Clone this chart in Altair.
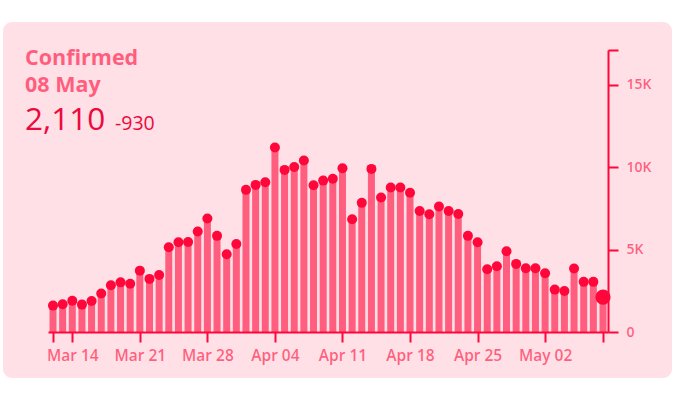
import altair as alt
import pandas as pd

dates = pd.date_range("2020-03-12", "2020-05-08", freq="D")
values = [
    1600, 1680, 1900, 1660, 1880, 2330, 2830, 3010, 2930, 3720,
    3220, 3460, 5140, 5440, 5460, 6090, 6880, 5830, 4710, 5340,
    8620, 8920, 9080, 11190, 9830, 10010, 10400, 8900, 9180, 9290,
    9930, 6840, 7830, 9890, 8160, 8760, 8760, 8440, 7340, 7140,
    7610, 7340, 7160, 5830, 5440, 3800, 3990, 4900, 4130, 3870,
    3870, 3560, 2570, 2490, 3850, 3040, 3040, 2110,
]
title_lines = ["Confirmed", "08 May"]
headline = "2,110"
delta = "-930"
y_ticks = [0, 5000, 10000, 15000, 17100]
x_ticks = ["2020-03-12", "2020-03-14", "2020-03-21", "2020-03-28", "2020-04-04",
           "2020-04-11", "2020-04-18", "2020-04-25", "2020-05-02", "2020-05-08"]

df = pd.DataFrame({"date": dates, "value": values})
last = df.tail(1)
one = pd.DataFrame({"a": [0]})

RED = "#ff073a"
TFONT = "Open Sans"

def dt(s):
    y, m, d = [int(p) for p in s.split("-")]
    return alt.DateTime(year=y, month=m, date=d)

xscale = alt.Scale(domain=[dt("2020-03-12"), dt("2020-05-08")], nice=False)
yscale = alt.Scale(domain=[0, 17100], nice=False)

xaxis = alt.Axis(
    values=[dt(s) for s in x_ticks], format="%b %d",
    labelExpr="(month(datum.value)==2 && date(datum.value)==12) || (month(datum.value)==4 && date(datum.value)==8) ? '' : datum.label",
    title=None, grid=False, domainColor=RED, domainWidth=2, tickColor=RED, tickWidth=2,
    tickSize=10, labelColor=RED, labelOpacity=0.6, labelFont=TFONT, labelFontSize=15.5,
    labelFontWeight=600, labelPadding=6, labelFlush=False, labelOverlap=False, zindex=2,
)
yaxis = alt.Axis(
    orient="right", values=y_ticks,
    labelExpr="datum.value > 16000 ? '' : (datum.value == 0 ? '0' : (datum.value/1000) + 'K')",
    title=None, grid=False, domainColor=RED, domainWidth=2, tickColor=RED, tickWidth=2,
    tickSize=10, labelColor=RED, labelOpacity=0.6, labelFont=TFONT, labelFontSize=14,
    labelFontWeight=600, labelPadding=8, labelFlush=False, labelOverlap=False, zindex=2,
)

card = alt.Chart(one).mark_rect(fill="#ffe0e6", cornerRadius=9).encode(
    x=alt.value(-45), x2=alt.value(624), y=alt.value(-28), y2=alt.value(328)
)

bars = alt.Chart(df).mark_bar(size=7, color=RED, opacity=0.6).encode(
    x=alt.X("date:T", scale=xscale, axis=xaxis),
    y=alt.Y("value:Q", scale=yscale, axis=yaxis),
)
dots = alt.Chart(df).mark_circle(size=100, color=RED, opacity=1).encode(
    x=alt.X("date:T", scale=xscale), y=alt.Y("value:Q", scale=yscale)
)
big = alt.Chart(last).mark_circle(size=230, color=RED, opacity=1).encode(
    x=alt.X("date:T", scale=xscale), y=alt.Y("value:Q", scale=yscale)
)

def label(text, x, y, size, color, opacity=1.0, weight="bold", font=TFONT):
    return alt.Chart(one).mark_text(
        text=text, align="left", baseline="alphabetic", font=font, fontSize=size,
        fontWeight=weight, color=color, opacity=opacity,
    ).encode(x=alt.value(x), y=alt.value(y))

texts = [
    label(title_lines[0], -23, 15, 21.5, RED, 0.6),
    label(title_lines[1], -23, 42, 21.5, RED, 0.6),
    label(headline, -23, 79.5, 31.5, "#ec0a3d", 1.0, 500),
    label(delta, 67, 79.5, 19.5, "#ec0a3d", 1.0, 500),
]

chart = alt.layer(card, bars, dots, big, *texts).properties(
    width=560, height=282,
    autosize=alt.AutoSizeParams(type="none"),
    padding={"left": 48, "top": 50, "right": 72, "bottom": 76},
    background="white",
).configure_view(stroke=None)

chart.save("out.html", embed_options={"renderer": "svg", "actions": False})
